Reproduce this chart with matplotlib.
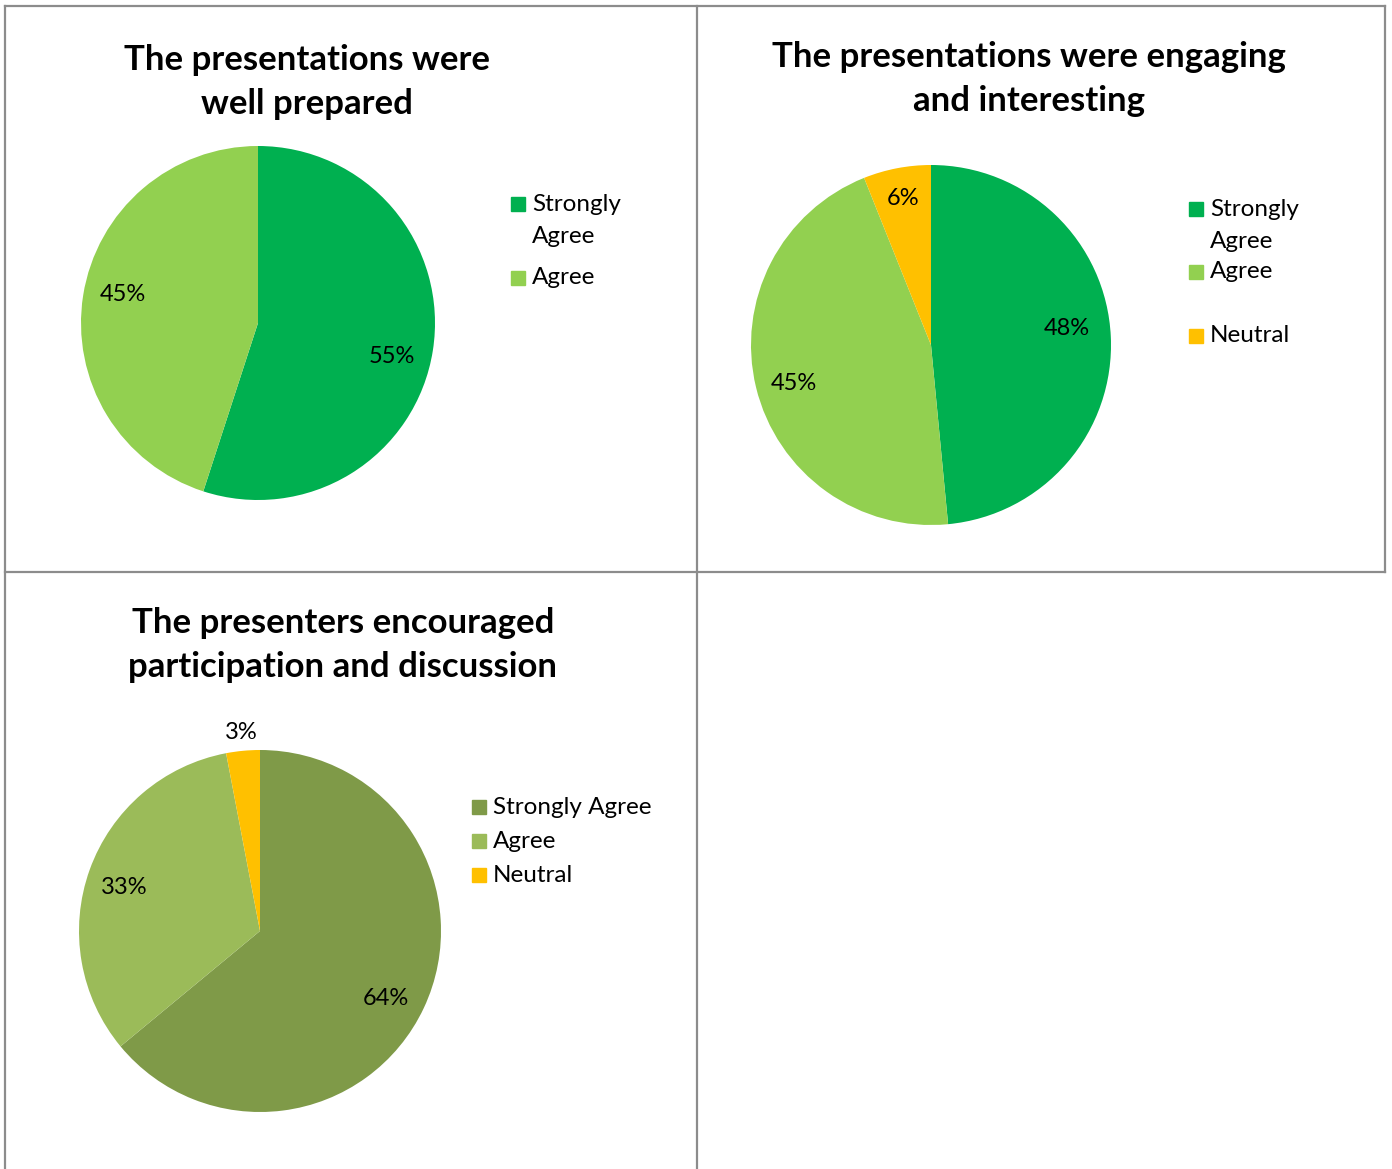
import numpy as np
import matplotlib
matplotlib.use("Agg")
import matplotlib.pyplot as plt
from matplotlib.patches import Rectangle

# --- data ---
titles = [
    "The presentations were\nwell prepared",
    "The presentations were engaging\nand interesting",
    "The presenters encouraged\nparticipation and discussion",
]
labels_1 = ["Strongly Agree", "Agree"]
values_1 = [55, 45]
labels_2 = ["Strongly Agree", "Agree", "Neutral"]
values_2 = [48, 45, 6]
labels_3 = ["Strongly Agree", "Agree", "Neutral"]
values_3 = [64, 33, 3]

colors_1 = ["#00B050", "#92D050"]
colors_2 = ["#00B050", "#92D050", "#FFC000"]
colors_3 = ["#7F9A48", "#9BBB59", "#FFC000"]

W, H = 1392, 1169
plt.rcParams["font.family"] = ["Lato", "DejaVu Sans"]

fig = plt.figure(figsize=(W / 100, H / 100), dpi=100)
fig.patch.set_facecolor("white")


def fx(x):
    return x / W


def fy(y):
    return 1 - y / H


# --- table borders ---
border = "#8C8C8C"
segs = [
    ((5, 6), (1385, 6)),
    ((5, 572), (1385, 572)),
    ((5, 6), (5, 1169)),
    ((697, 6), (697, 1169)),
    ((1385, 6), (1385, 572)),
]
for (x0, y0), (x1, y1) in segs:
    fig.add_artist(plt.Line2D([fx(x0), fx(x1)], [fy(y0), fy(y1)],
                              color=border, lw=1.6, transform=fig.transFigure))


def draw_pie(cx, cy, r, values, colors, dists, shifts):
    ax = fig.add_axes([fx(cx - r), fy(cy + r), 2 * r / W, 2 * r / H])
    wedges, _ = ax.pie(values, colors=colors, startangle=90, counterclock=False,
                       radius=1, wedgeprops=dict(linewidth=0))
    ax.set_xlim(-1, 1)
    ax.set_ylim(-1, 1)
    ax.set_aspect("equal")
    ax.axis("off")
    # labels sit near the middle of each slice (nudged a few degrees like Excel's best fit)
    for w, v, d, s in zip(wedges, values, dists, shifts):
        mid = np.deg2rad((w.theta1 + w.theta2) / 2 + s)
        ax.text(d * np.cos(mid), d * np.sin(mid), f"{v}%", ha="center",
                va="center", fontsize=17, color="black", clip_on=False)
    return ax


def draw_legend(x, ys, texts, colors):
    for y, t, c in zip(ys, texts, colors):
        fig.add_artist(Rectangle((fx(x), fy(y + 7)), 14 / W, 14 / H,
                                 color=c, transform=fig.transFigure))
        if "\n" in t:
            fig.text(fx(x + 21), fy(y - 10), t, ha="left", va="top",
                     fontsize=17.5, linespacing=1.65)
        else:
            fig.text(fx(x + 21), fy(y), t, ha="left", va="center", fontsize=17.5)


# chart 1
fig.text(fx(307), fy(82), titles[0], ha="center", va="center",
         fontsize=25, fontweight="bold", linespacing=1.45)
draw_pie(258, 323, 177, values_1, colors_1, [0.78, 0.78], [-5, -3])
draw_legend(511, [204, 278], ["Strongly\nAgree", "Agree"], colors_1)

# chart 2
fig.text(fx(1029), fy(79), titles[1], ha="center", va="center",
         fontsize=25, fontweight="bold", linespacing=1.45)
draw_pie(931, 345, 180, values_2, colors_2, [0.76, 0.79, 0.83], [4, 2, 0])
draw_legend(1189, [209, 272, 336], ["Strongly\nAgree", "Agree", "Neutral"], colors_2)

# chart 3
fig.text(fx(343), fy(645), titles[2], ha="center", va="center",
         fontsize=25, fontweight="bold", linespacing=1.45)
draw_pie(260, 931, 181, values_3, colors_3, [0.79, 0.79, 1.10], [-3, 2, 0])
draw_legend(472, [807, 841, 875], labels_3, colors_3)

fig.savefig("out.png", dpi=100, facecolor="white")
